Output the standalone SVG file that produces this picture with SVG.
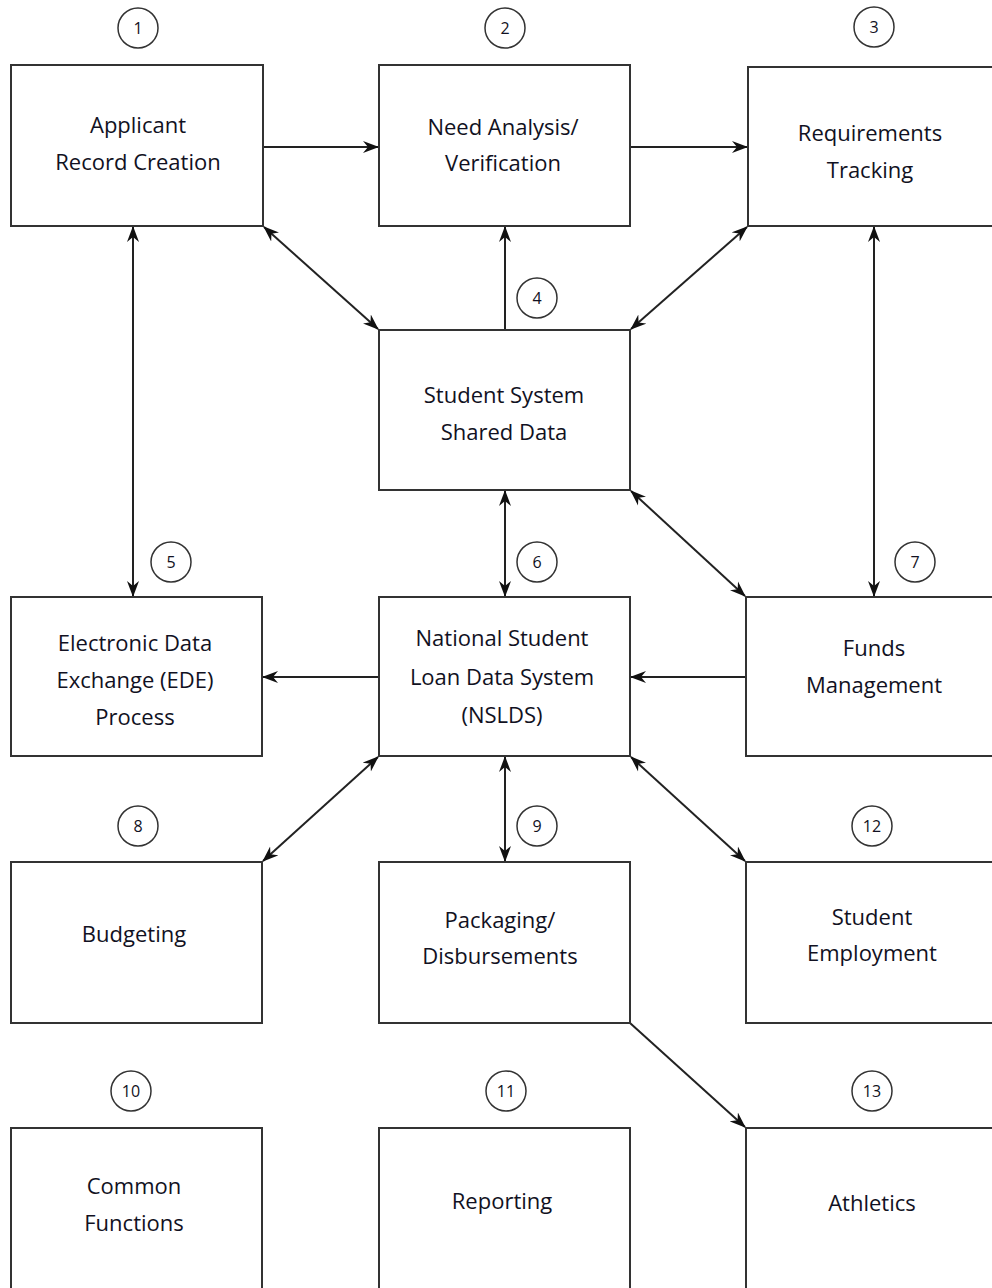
<svg xmlns="http://www.w3.org/2000/svg" width="992" height="1288" viewBox="0 0 992 1288">
<defs>
<style>
.box{fill:#fff;stroke:#333;stroke-width:2}
.lbl{font-family:"Open Sans",Lato,sans-serif;font-size:22px;fill:#111122;text-anchor:middle;font-weight:500}
.num{fill:#fff;stroke:#333;stroke-width:1.5}
.nt{font-family:"Open Sans",Lato,sans-serif;font-size:16px;fill:#111122;text-anchor:middle;font-weight:500}
.c{stroke:#222;stroke-width:2;fill:none}
.one{marker-end:url(#ah)}
.two{marker-end:url(#ah);marker-start:url(#ah)}
</style>
<marker id="ah" viewBox="0 0 16 12" markerWidth="16" markerHeight="13" markerUnits="userSpaceOnUse" refX="15" refY="6" orient="auto-start-reverse">
<path d="M0,0 L16,6 L0,12 L5,6 z" fill="#111"/>
</marker>
</defs>
<rect width="992" height="1288" fill="#fff"/>
<g id="connectors">
<line class="c one" x1="263" y1="147" x2="378" y2="147"/>
<line class="c one" x1="630" y1="147" x2="747" y2="147"/>
<line class="c two" x1="264" y1="227" x2="378" y2="329"/>
<line class="c one" x1="505" y1="330" x2="505" y2="227"/>
<line class="c two" x1="747" y1="227" x2="631" y2="329"/>
<line class="c two" x1="133" y1="227" x2="133" y2="596"/>
<line class="c two" x1="874" y1="227" x2="874" y2="596"/>
<line class="c two" x1="505" y1="491" x2="505" y2="596"/>
<line class="c two" x1="631" y1="491" x2="745" y2="596"/>
<line class="c one" x1="379" y1="677" x2="263" y2="677"/>
<line class="c one" x1="746" y1="677" x2="631" y2="677"/>
<line class="c two" x1="378" y1="757" x2="263" y2="861"/>
<line class="c two" x1="505" y1="757" x2="505" y2="861"/>
<line class="c two" x1="631" y1="757" x2="745" y2="861"/>
<line class="c one" x1="630" y1="1023" x2="745" y2="1127"/>
</g>
<g id="n1"><rect class="box" x="11" y="65" width="252" height="161"/><text class="lbl" x="138" y="133">Applicant</text><text class="lbl" x="138" y="170">Record Creation</text><circle class="num" cx="138" cy="28" r="20"/><text class="nt" x="138" y="34">1</text></g>
<g id="n2"><rect class="box" x="379" y="65" width="251" height="161"/><text class="lbl" x="503" y="135">Need Analysis/</text><text class="lbl" x="503" y="171">Verification</text><circle class="num" cx="505" cy="28" r="20"/><text class="nt" x="505" y="34">2</text></g>
<g id="n3"><rect class="box" x="748" y="67" width="252" height="159"/><text class="lbl" x="870" y="141">Requirements</text><text class="lbl" x="870" y="178">Tracking</text><circle class="num" cx="874" cy="27" r="20"/><text class="nt" x="874" y="33">3</text></g>
<g id="n4"><rect class="box" x="379" y="330" width="251" height="160"/><text class="lbl" x="504" y="403">Student System</text><text class="lbl" x="504" y="440">Shared Data</text><circle class="num" cx="537" cy="298" r="20"/><text class="nt" x="537" y="304">4</text></g>
<g id="n5"><rect class="box" x="11" y="597" width="251" height="159"/><text class="lbl" x="135" y="651">Electronic Data</text><text class="lbl" x="135" y="688">Exchange (EDE)</text><text class="lbl" x="135" y="725">Process</text><circle class="num" cx="171" cy="562" r="20"/><text class="nt" x="171" y="568">5</text></g>
<g id="n6"><rect class="box" x="379" y="597" width="251" height="159"/><text class="lbl" x="502" y="646">National Student</text><text class="lbl" x="502" y="685">Loan Data System</text><text class="lbl" x="502" y="723">(NSLDS)</text><circle class="num" cx="537" cy="562" r="20"/><text class="nt" x="537" y="568">6</text></g>
<g id="n7"><rect class="box" x="746" y="597" width="254" height="159"/><text class="lbl" x="874" y="656">Funds</text><text class="lbl" x="874" y="693">Management</text><circle class="num" cx="915" cy="562" r="20"/><text class="nt" x="915" y="568">7</text></g>
<g id="n8"><rect class="box" x="11" y="862" width="251" height="161"/><text class="lbl" x="134" y="942">Budgeting</text><circle class="num" cx="138" cy="826" r="20"/><text class="nt" x="138" y="832">8</text></g>
<g id="n9"><rect class="box" x="379" y="862" width="251" height="161"/><text class="lbl" x="500" y="928">Packaging/</text><text class="lbl" x="500" y="964">Disbursements</text><circle class="num" cx="537" cy="826" r="20"/><text class="nt" x="537" y="832">9</text></g>
<g id="n12"><rect class="box" x="746" y="862" width="254" height="161"/><text class="lbl" x="872" y="925">Student</text><text class="lbl" x="872" y="961">Employment</text><circle class="num" cx="872" cy="826" r="20"/><text class="nt" x="872" y="832">12</text></g>
<g id="n10"><rect class="box" x="11" y="1128" width="251" height="170"/><text class="lbl" x="134" y="1194">Common</text><text class="lbl" x="134" y="1231">Functions</text><circle class="num" cx="131" cy="1091" r="20"/><text class="nt" x="131" y="1097">10</text></g>
<g id="n11"><rect class="box" x="379" y="1128" width="251" height="170"/><text class="lbl" x="502" y="1209">Reporting</text><circle class="num" cx="506" cy="1091" r="20"/><text class="nt" x="506" y="1097">11</text></g>
<g id="n13"><rect class="box" x="746" y="1128" width="254" height="170"/><text class="lbl" x="872" y="1211">Athletics</text><circle class="num" cx="872" cy="1091" r="20"/><text class="nt" x="872" y="1097">13</text></g>
</svg>
